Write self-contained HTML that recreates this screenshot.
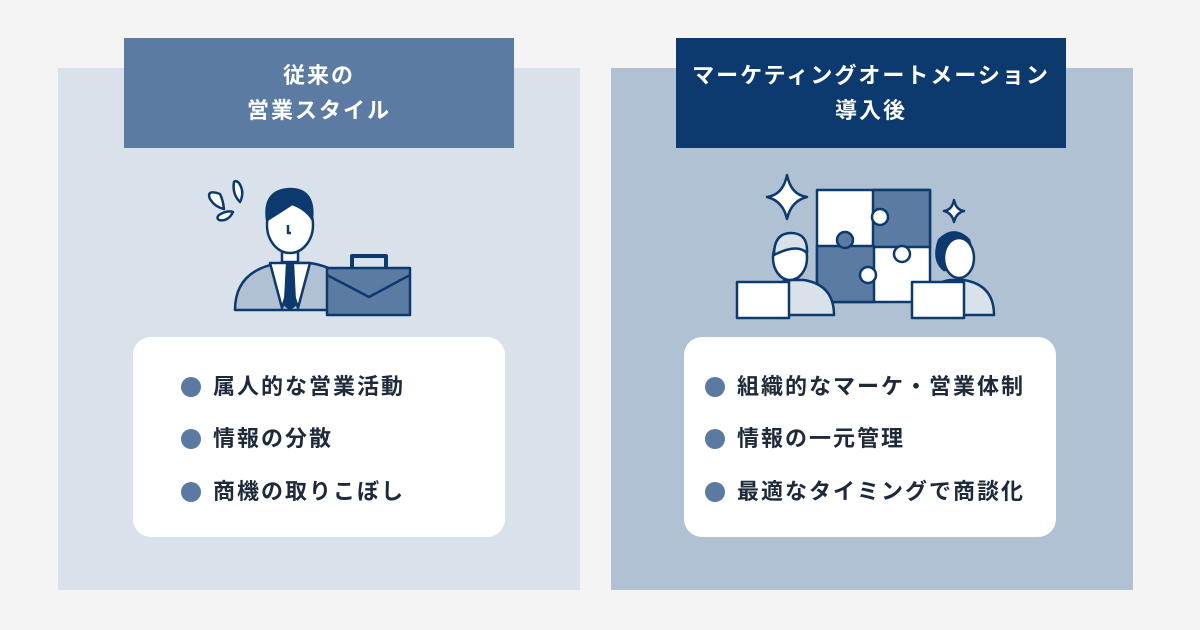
<!DOCTYPE html>
<html><head><meta charset="utf-8"><style>
body{margin:0;width:1200px;height:630px;background:#f4f4f4;position:relative;overflow:hidden;font-family:"Liberation Sans","Noto Sans CJK JP",sans-serif}
.p{position:absolute;top:68px;width:522px;height:522px}
.h{position:absolute;top:38px;width:390px;height:110px;color:#fff;font-size:22px;font-weight:bold;text-align:center;line-height:35px;display:flex;align-items:center;justify-content:center;letter-spacing:2px}
.b{position:absolute;top:337px;width:372px;height:200px;background:#fff;border-radius:18px}
.li{position:absolute;left:50px;font-size:22px;font-weight:bold;color:#1e2a3a;line-height:26px;letter-spacing:2px;white-space:nowrap}
.li:before{content:"";position:absolute;left:-2px;top:3px;width:20px;height:20px;border-radius:50%;background:#5a7aa1}
.li span{margin-left:30px}
.r .li{left:23px}
svg{position:absolute}
</style></head><body>
<div class="p" style="left:58px;background:#d9e2ea"></div>
<div class="p" style="left:611px;background:#b0c1d3"></div>
<div class="h" style="left:124px;background:#5b7ba3">従来の<br>営業スタイル</div>
<div class="h" style="left:676px;background:#0d3a6e">マーケティングオートメーション<br>導入後</div>

<svg style="left:190px;top:170px" width="240" height="150" viewBox="0 0 240 150" fill="none" stroke="#0d3a6e" stroke-width="2.5" stroke-linejoin="round">
<path d="M30 24 q-14 -5 -10 5 q5 8 14 10 q-1 -9 -4 -15z" fill="#fff"/>
<path d="M44 12 q-2 12 6 20 q5 -10 -1 -19 q-3 -3 -5 -1z" fill="#fff"/>
<path d="M29 45 q8 -5 14 -3 q-5 10 -14 8 q-3 -2 0 -5z" fill="#fff"/>
<path d="M45 140 q0 -40 45 -47 l30 0 q45 7 45 47z" fill="#b0c1d3"/>
<path d="M80 93 l12 45 l8 -25 l8 25 l12 -45z" fill="#fff"/>
<path d="M97 95 l6 0 l2 40 l-5 4 l-5 -4z" fill="#0d3a6e"/>
<rect x="92" y="70" width="16" height="22" fill="#fff"/>
<ellipse cx="100" cy="55" rx="23" ry="28" fill="#fff"/>
<path d="M77 50 q-4 -30 23 -31 q25 0 22 30 q-6 -10 -20 -15 q-15 10 -25 16z" fill="#0d3a6e"/>
<path d="M98 55 v8 h3"/>
<rect x="137" y="98" width="83" height="47" fill="#5b7ba3"/>
<path d="M137 105 l42 22 l41 -22"/>
<path d="M162 98 v-12 h34 v12" stroke-width="4"/>
</svg>

<svg style="left:720px;top:170px" width="290" height="150" viewBox="0 0 290 150" fill="none" stroke="#0d3a6e" stroke-width="2.5" stroke-linejoin="round">
<path d="M67 5 q4 20 20 22 q-16 4 -20 22 q-4 -18 -20 -22 q16 -2 20 -22z" fill="#fff"/>
<path d="M234 30 q2 10 10 11 q-8 2 -10 11 q-2 -9 -10 -11 q8 -1 10 -11z" fill="#fff"/>
<rect x="97" y="20" width="113" height="112" fill="#fff"/>
<rect x="153" y="20" width="57" height="57" fill="#5b7ba3"/>
<rect x="97" y="76" width="57" height="56" fill="#5b7ba3"/>
<circle cx="160" cy="47" r="8" fill="#fff"/><circle cx="125" cy="70" r="8" fill="#5b7ba3"/>
<circle cx="182" cy="84" r="8" fill="#fff"/><circle cx="148" cy="105" r="8" fill="#fff"/>
<path d="M40 145 q0 -30 30 -35 h14 q30 5 30 35z" fill="#d9e2ea"/>
<ellipse cx="70" cy="88" rx="17" ry="22" fill="#fff"/>
<path d="M54 85 q0 -22 17 -22 q17 0 16 20 q-10 -10 -33 2z" fill="#d9e2ea"/>
<rect x="17" y="112" width="52" height="36" fill="#fff"/>
<path d="M200 145 q0 -30 30 -35 h14 q30 5 30 35z" fill="#d9e2ea"/>
<path d="M224 100 q-12 -10 -5 -30 q15 -15 30 0 q7 20 -5 30z" fill="#0d3a6e"/>
<ellipse cx="239" cy="88" rx="15" ry="20" fill="#fff"/>
<rect x="192" y="112" width="52" height="36" fill="#fff"/>
</svg>

<div class="b" style="left:133px">
<div class="li" style="top:37px"><span>属人的な営業活動</span></div>
<div class="li" style="top:89px"><span>情報の分散</span></div>
<div class="li" style="top:142px"><span>商機の取りこぼし</span></div>
</div>
<div class="b r" style="left:684px">
<div class="li" style="top:37px"><span>組織的なマーケ・営業体制</span></div>
<div class="li" style="top:89px"><span>情報の一元管理</span></div>
<div class="li" style="top:142px"><span>最適なタイミングで商談化</span></div>
</div>
</body></html>
